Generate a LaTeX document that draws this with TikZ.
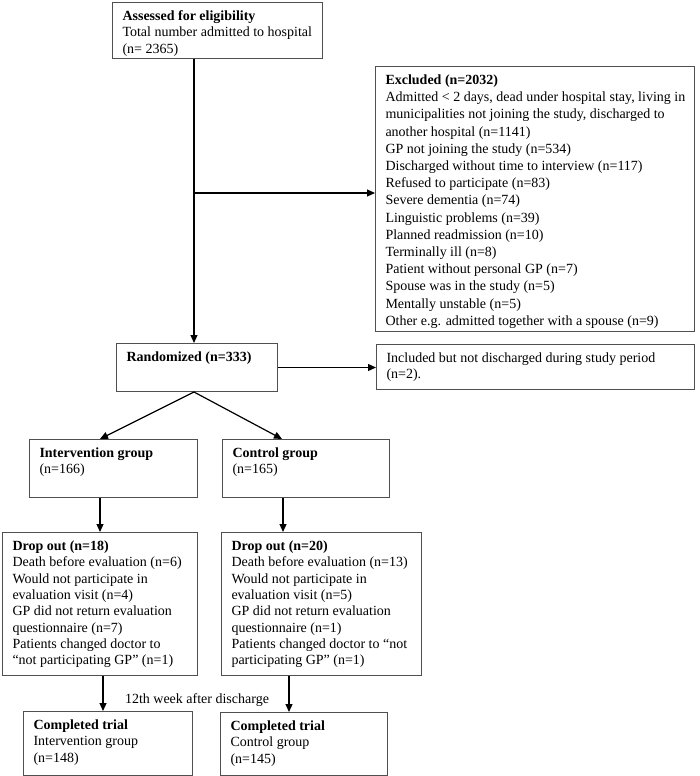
\documentclass[tikz,border=0pt]{standalone}
\usepackage{fontspec}
\setmainfont{Liberation Serif}
\usetikzlibrary{arrows.meta}
\definecolor{boxgray}{HTML}{505050}
\newcommand\cbx[3]{\parbox[c][#2pt][t]{#1pt}{\raggedright\leftskip=10pt\rule{0pt}{18pt}#3}}
\begin{document}
\begin{tikzpicture}[x=1pt,y=-1pt,
  box/.style={draw=boxgray, line width=1pt, anchor=north west, inner sep=0pt,
    font=\fontsize{14pt}{16.3pt}\selectfont},
  boxx/.style={box, font=\fontsize{14pt}{17.2pt}\selectfont},
  arr/.style={draw=black, line width=1.2pt, -{Triangle[length=8pt,width=7pt]}},
  lbl/.style={inner sep=0pt, font=\fontsize{14pt}{16.3pt}\selectfont}]
\useasboundingbox (0,0) rectangle (700,776);
\node[box] (A) at (112,2) {\cbx{210}{56}{\textbf{Assessed for eligibility}\\Total number admitted to hospital\\(n= 2365)}};
\node[boxx] (E) at (375,66) {\cbx{319}{265}{\textbf{Excluded (n=2032)}\\
Admitted < 2 days, dead under hospital stay, living in\\
municipalities not joining the study, discharged to\\
another hospital (n=1141)\\
GP not joining the study (n=534)\\
Discharged without time to interview (n=117)\\
Refused to participate (n=83)\\
Severe dementia (n=74)\\
Linguistic problems (n=39)\\
Planned readmission (n=10)\\
Terminally ill (n=8)\\
Patient without personal GP (n=7)\\
Spouse was in the study (n=5)\\
Mentally unstable (n=5)\\
Other e.g. admitted together with a spouse (n=9)}};
\node[box] (R) at (116,343) {\cbx{161}{48}{\textbf{Randomized (n=333)}}};
\node[box] (In) at (376,344) {\cbx{318}{45}{Included but not discharged during study period\\(n=2).}};
\node[box] (IG) at (29,439) {\cbx{168}{58}{\textbf{Intervention group}\\(n=166)}};
\node[box] (CG) at (222,439) {\cbx{167}{58}{\textbf{Control group}\\(n=165)}};
\node[box] (DL) at (2,532) {\cbx{195}{143}{\textbf{Drop out (n=18)}\\
Death before evaluation (n=6)\\
Would not participate in\\
evaluation visit (n=4)\\
GP did not return evaluation\\
questionnaire (n=7)\\
Patients changed doctor to\\
“not participating GP” (n=1)}};
\node[box] (DR) at (221,532) {\cbx{200}{143}{\textbf{Drop out (n=20)}\\
Death before evaluation (n=13)\\
Would not participate in\\
evaluation visit (n=5)\\
GP did not return evaluation\\
questionnaire (n=1)\\
Patients changed doctor to “not\\
participating GP” (n=1)}};
\node[box] (CL) at (23,711) {\cbx{169}{64}{\textbf{Completed trial}\\Intervention group\\(n=148)}};
\node[box] (CR) at (220,712) {\cbx{167}{63}{\textbf{Completed trial}\\Control group\\(n=145)}};
\node[lbl] (wk) at (197,700) {12th week after discharge};
\coordinate (v) at (194,193);
\coordinate (c1) at (100,0);
\coordinate (c2) at (282,0);
\coordinate (c3) at (283,0);
\coordinate (c4) at (103,0);
\coordinate (c5) at (289,0);
\coordinate (ap) at (R.south -| v);
\draw[arr] (A.south -| v) -- (R.north -| v);
\draw[arr] (v) -- (v -| E.west);
\draw[arr] (R.east) -- (R.east -| In.west);
\draw[arr] (ap) -- (IG.north -| c1);
\draw[arr] (ap) -- (CG.north -| c2);
\draw[arr] (IG.south -| c1) -- (DL.north -| c1);
\draw[arr] (CG.south -| c3) -- (DR.north -| c3);
\draw[arr] (DL.south -| c4) -- (CL.north -| c4);
\draw[arr] (DR.south -| c5) -- (CR.north -| c5);
\end{tikzpicture}
\end{document}
